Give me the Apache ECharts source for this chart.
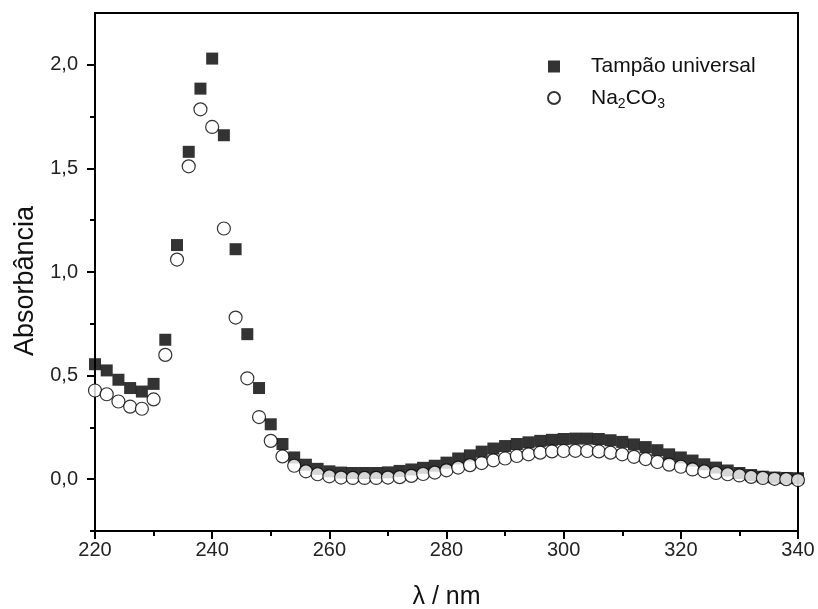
<!DOCTYPE html>
<html>
<head>
<meta charset="utf-8">
<script src="https://cdn.jsdelivr.net/npm/echarts@6/dist/echarts.min.js"></script>
<style>html,body{margin:0;padding:0;background:#fff}#c{width:818px;height:609px}</style>
</head>
<body>
<div id="c"></div>
<script>
const wavelengths = [220,222,224,226,228,230,232,234,236,238,240,242,244,246,248,250,252,254,256,258,260,262,264,266,268,270,272,274,276,278,280,282,284,286,288,290,292,294,296,298,300,302,304,306,308,310,312,314,316,318,320,322,324,326,328,330,332,334,336,338,340];
const tampao = [0.555,0.525,0.48,0.44,0.423,0.46,0.673,1.13,1.58,1.885,2.03,1.66,1.11,0.70,0.44,0.265,0.17,0.105,0.07,0.05,0.038,0.032,0.03,0.03,0.03,0.033,0.04,0.047,0.055,0.065,0.08,0.10,0.115,0.133,0.148,0.16,0.17,0.178,0.185,0.19,0.194,0.196,0.196,0.194,0.188,0.18,0.168,0.155,0.14,0.12,0.105,0.09,0.072,0.056,0.042,0.03,0.02,0.012,0.008,0.006,0.005];
const na2co3 = [0.428,0.41,0.375,0.35,0.34,0.385,0.60,1.06,1.51,1.785,1.70,1.21,0.78,0.487,0.30,0.185,0.11,0.065,0.038,0.024,0.014,0.008,0.006,0.006,0.006,0.008,0.01,0.016,0.025,0.032,0.043,0.056,0.068,0.078,0.091,0.10,0.112,0.12,0.128,0.134,0.136,0.137,0.136,0.134,0.128,0.12,0.108,0.097,0.083,0.07,0.06,0.047,0.038,0.03,0.024,0.018,0.011,0.006,0.002,0.0,-0.004];
const yMajorTicks = [0, 0.5, 1.0, 1.5, 2.0];
const yMinorTicks = [-0.25, 0.25, 0.75, 1.25, 1.75];
const seriesNames = ['Tampão universal', 'Na2CO3'];

const font = '"Liberation Sans", Arial, sans-serif';
const chart = echarts.init(document.getElementById('c'), null, {renderer: 'canvas'});
const pairs = (ys) => wavelengths.map((x, i) => [x, ys[i]]);

chart.setOption({
  animation: false,
  backgroundColor: '#fff',
  grid: {left: 95, right: 20, top: 13, bottom: 78, show: true, borderColor: '#000', borderWidth: 2,
    containLabel: false, outerBoundsMode: 'none'},
  legend: {
    orient: 'vertical', left: 547, top: 56, padding: 0, itemWidth: 12, itemHeight: 12, itemGap: 8,
    data: [{name: seriesNames[0], icon: 'rect'}, {name: seriesNames[1], icon: 'circle'}],
    formatter: (n) => n === 'Na2CO3' ? '{a|Na}{s|2}{a|CO}{s|3}' : '{a|' + n + '}',
    textStyle: {
      fontFamily: font, color: '#111', padding: [0, 0, 0, 26],
      rich: {
        a: {fontFamily: font, fontSize: 21, color: '#111', lineHeight: 24},
        s: {fontFamily: font, fontSize: 14, color: '#111', lineHeight: 24, padding: [12, 0, 0, 0]}
      }
    }
  },
  xAxis: {
    type: 'value', min: 220, max: 340, interval: 20,
    name: 'λ / nm', nameLocation: 'middle', nameGap: 54,
    nameTextStyle: {fontFamily: font, fontSize: 25, color: '#111'},
    axisLine: {show: true, onZero: false, lineStyle: {color: '#000', width: 2}},
    axisTick: {show: true, inside: false, length: 8, lineStyle: {color: '#000', width: 2}},
    minorTick: {show: true, splitNumber: 2, length: 5, lineStyle: {color: '#000', width: 2}},
    axisLabel: {fontFamily: font, fontSize: 20, color: '#222', margin: 9},
    splitLine: {show: false}, minorSplitLine: {show: false}
  },
  yAxis: [{
    type: 'value', min: -0.25, max: 2.25, interval: 0.25,
    name: 'Absorbância', nameLocation: 'middle', nameGap: 56,
    nameTextStyle: {fontFamily: font, fontSize: 27, color: '#111', padding: [0, 18, 0, 0]},
    axisLine: {show: true, onZero: false, lineStyle: {color: '#000', width: 2}},
    axisTick: {show: true, inside: false, length: 8, customValues: yMajorTicks, lineStyle: {color: '#000', width: 2}},
    axisLabel: {fontFamily: font, fontSize: 20, color: '#222', margin: 17, customValues: yMajorTicks,
      formatter: (v) => v.toFixed(1).replace('.', ',')},
    splitLine: {show: false}
  }, {
    type: 'value', min: -0.25, max: 2.25, interval: 0.25, position: 'left',
    axisLine: {show: false},
    axisTick: {show: true, inside: false, length: 5, customValues: yMinorTicks, lineStyle: {color: '#000', width: 2}},
    axisLabel: {show: false},
    splitLine: {show: false}
  }],
  series: [{
    name: seriesNames[0], type: 'scatter', symbol: 'rect', symbolSize: 12,
    itemStyle: {color: '#000'}, data: pairs(tampao)
  }, {
    name: seriesNames[1], type: 'scatter', symbol: 'circle', symbolSize: 13,
    itemStyle: {color: '#fff', borderColor: '#000', borderWidth: 1.2}, data: pairs(na2co3)
  }]
});
</script>
</body>
</html>
